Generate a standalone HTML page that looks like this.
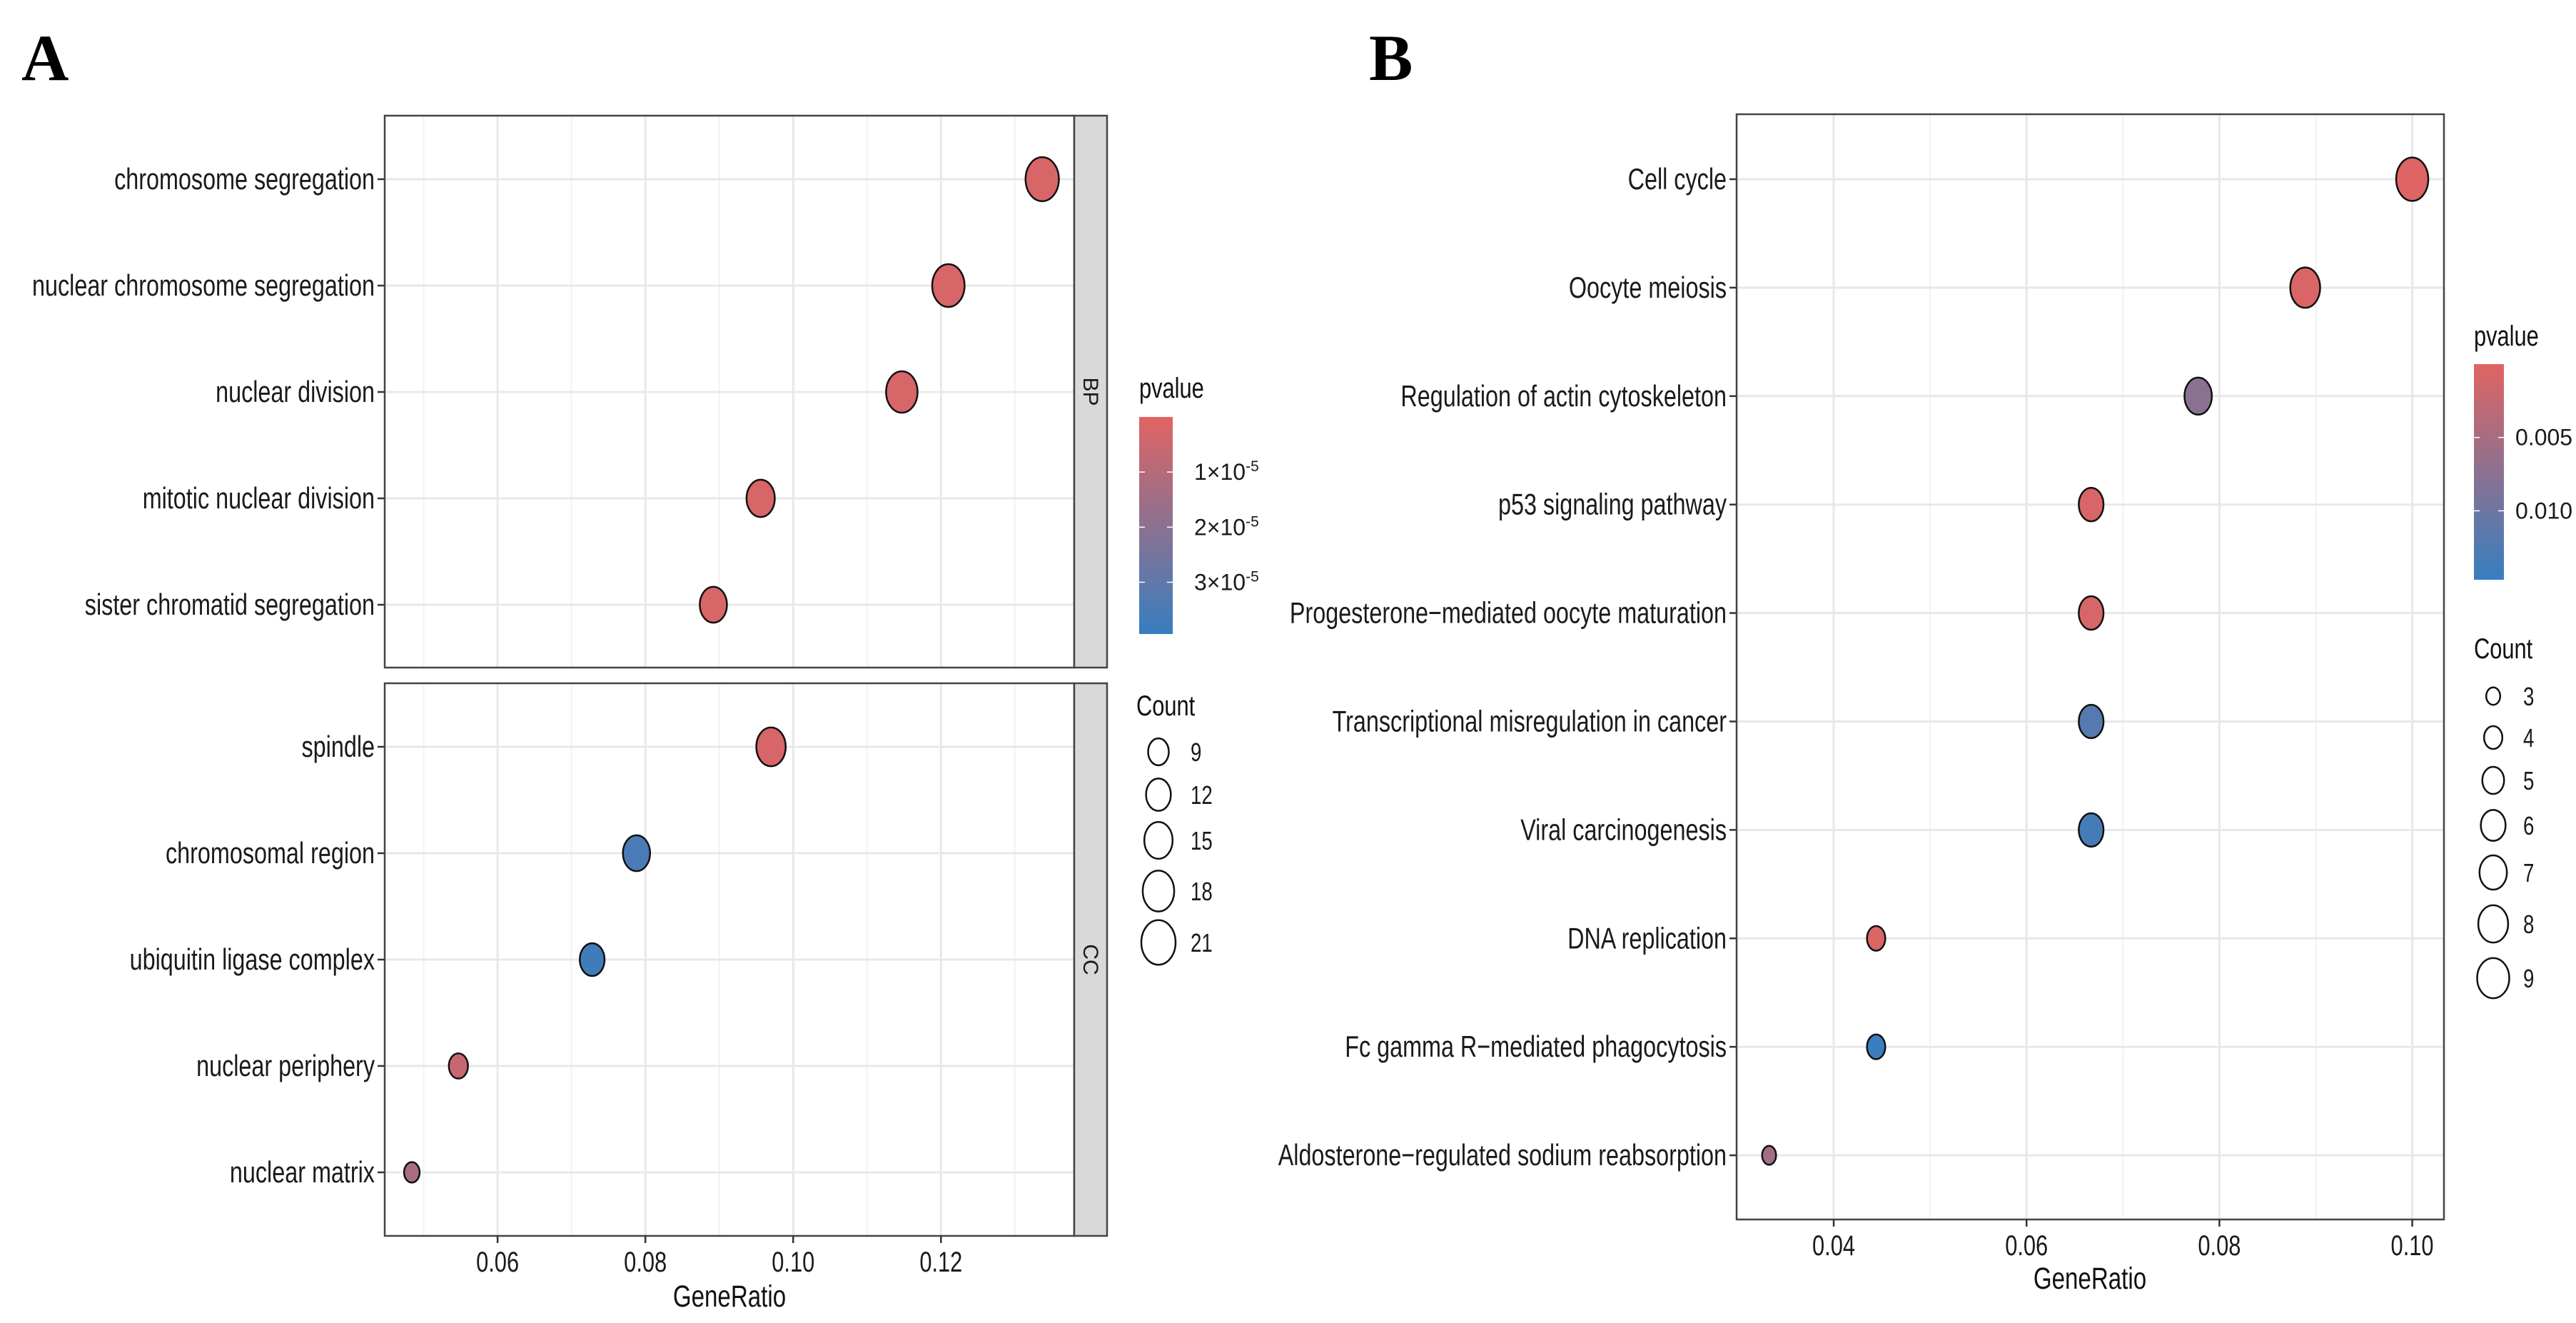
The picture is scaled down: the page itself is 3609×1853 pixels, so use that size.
<!DOCTYPE html>
<html><head><meta charset="utf-8"><style>
html,body{margin:0;padding:0;background:#fff;}
svg{display:block;font-family:"Liberation Sans",Arial,sans-serif;}
</style></head><body>
<svg id="fig" width="3609" height="1853" viewBox="0 0 3609 1853" xmlns="http://www.w3.org/2000/svg"></svg>
<script>
// ---- Panel A data (GO) ----
const aBPTerms = ["chromosome segregation","nuclear chromosome segregation","nuclear division","mitotic nuclear division","sister chromatid segregation"];
const aBPRatio = [0.1337,0.1210,0.1147,0.0956,0.0892];
const aBPCount = [20,19,18,15,14];
const aBPP = [0.2e-5,0.2e-5,0.2e-5,0.2e-5,0.2e-5];
const aCCTerms = ["spindle","chromosomal region","ubiquitin ligase complex","nuclear periphery","nuclear matrix"];
const aCCRatio = [0.0970,0.0788,0.0728,0.0547,0.0484];
const aCCCount = [16,14,12,8,6];
const aCCP = [0.2e-5,3.5e-5,3.7e-5,0.6e-5,1.3e-5];
const aXTicks = [0.06,0.08,0.10,0.12];
const aXTickLabels = ["0.06","0.08","0.10","0.12"];
const aPTicks = [1e-5,2e-5,3e-5];
const aCountLegend = [9,12,15,18,21];
// ---- Panel B data (KEGG) ----
const bTerms = ["Cell cycle","Oocyte meiosis","Regulation of actin cytoskeleton","p53 signaling pathway","Progesterone\u2212mediated oocyte maturation","Transcriptional misregulation in cancer","Viral carcinogenesis","DNA replication","Fc gamma R\u2212mediated phagocytosis","Aldosterone\u2212regulated sodium reabsorption"];
const bRatio = [0.1000,0.0889,0.0778,0.0667,0.0667,0.0667,0.0667,0.0444,0.0444,0.0333];
const bCount = [9,8,7,6,6,6,6,4,4,3];
const bP = [0.0003,0.0006,0.0075,0.0008,0.0009,0.0120,0.0135,0.0005,0.0145,0.0055];
const bXTicks = [0.04,0.06,0.08,0.10];
const bXTickLabels = ["0.04","0.06","0.08","0.10"];
const bPTicks = [0.005,0.010];
const bPTickLabels = ["0.005","0.010"];
const bCountLegend = [3,4,5,6,7,8,9];

const NS="http://www.w3.org/2000/svg";
const svg=document.getElementById('fig');
function mk(tag,attrs,parent){const e=document.createElementNS(NS,tag);for(const k in attrs)e.setAttribute(k,attrs[k]);(parent||svg).appendChild(e);return e;}
function txt(s,attrs,parent,squeeze){const t=mk('text',attrs,parent);t.textContent=s;if(squeeze){const w=t.getComputedTextLength();t.setAttribute('textLength',(w*squeeze).toFixed(1));t.setAttribute('lengthAdjust','spacingAndGlyphs');}return t;}
const RED=[225,100,98],BLUE=[55,126,192];
function colAt(f){f=Math.max(0,Math.min(1,f));const c=RED.map((r,i)=>Math.round(r+(BLUE[i]-r)*f));return `rgb(${c[0]},${c[1]},${c[2]})`;}
const SQ=0.77;

function panel(o){
  const g=mk('g',{});
  
  
  const xs=v=>o.x0+(v-o.xmin)/(o.xmax-o.xmin)*(o.x1-o.x0);
  mk('rect',{x:o.x0,y:o.y0,width:o.x1-o.x0,height:o.y1-o.y0,fill:'#fff'},g);
  for(let i=0;i<o.ticks.length+1;i++){const v=o.ticks[0]-0.01+0.02*i;const x=xs(v);if(x>o.x0&&x<o.x1)mk('line',{x1:x,x2:x,y1:o.y0,y2:o.y1,stroke:'#f2f2f2','stroke-width':2},g);}
  o.ticks.forEach(v=>{const x=xs(v);mk('line',{x1:x,x2:x,y1:o.y0,y2:o.y1,stroke:'#e8e8e8','stroke-width':3},g);});
  const ys=i=>o.ry0+i*o.rstep;
  o.terms.forEach((t,i)=>{
    const y=ys(i);
    mk('line',{x1:o.x0,x2:o.x1,y1:y,y2:y,stroke:'#e8e8e8','stroke-width':3},g);
    const lab=txt(t,{x:o.x0-14,y:y+14,'text-anchor':'end','font-size':42,fill:'#1a1a1a'},g,SQ);
    
    
    mk('line',{x1:o.x0-10,x2:o.x0,y1:y,y2:y,stroke:'#333','stroke-width':2.5},g);
  });
  o.terms.forEach((t,i)=>{
    const rx=o.rad(o.count[i]);
    const e=mk('ellipse',{cx:xs(o.ratio[i]),cy:ys(i),rx:rx,ry:rx*o.ryf,fill:colAt(o.p[i]/o.pmax),stroke:'#111','stroke-width':2.5},g);
    
    
  });
  mk('rect',{x:o.x0,y:o.y0,width:o.x1-o.x0,height:o.y1-o.y0,fill:'none',stroke:'#444','stroke-width':2.5},g);
  if(o.showX){
    o.ticks.forEach((v,i)=>{const x=xs(v);mk('line',{x1:x,x2:x,y1:o.y1,y2:o.y1+10,stroke:'#333','stroke-width':2.5},g);
      const tl=txt(o.tickLabels[i],{x:x,y:o.y1+50,'text-anchor':'middle','font-size':40,fill:'#1a1a1a'},g,SQ);
      
      });
  }
  return g;
}
const radA=c=>Math.sqrt(Math.max(20,-64.5+30.5*c));
const radB=c=>Math.sqrt(Math.max(20,-109+68.3*c));
const aCommon={x0:539,x1:1505,xmin:0.04473,xmax:0.13803,ticks:aXTicks,tickLabels:aXTickLabels,pmax:3.94e-5,rad:radA,ryf:1.32,rstep:149};
panel(Object.assign({},aCommon,{name:'panel-a-bp',y0:162,y1:935,ry0:251,terms:aBPTerms,ratio:aBPRatio,count:aBPCount,p:aBPP,showX:false}));
panel(Object.assign({},aCommon,{name:'panel-a-cc',y0:957,y1:1731,ry0:1046,terms:aCCTerms,ratio:aCCRatio,count:aCCCount,p:aCCP,showX:true}));
[[162,935,'BP','strip-bp'],[957,1731,'CC','strip-cc']].forEach(s=>{
  const r=mk('rect',{x:1505,y:s[0],width:46,height:s[1]-s[0],fill:'#d9d9d9',stroke:'#444','stroke-width':2.5});
  
  
  const cy=(s[0]+s[1])/2;
  txt(s[2],{x:0,y:0,'font-size':30,fill:'#1a1a1a','text-anchor':'middle',transform:`translate(1518,${cy}) rotate(90)`});
});
let t=txt('GeneRatio',{x:1022,y:1830,'text-anchor':'middle','font-size':43,fill:'#111'},null,SQ);


t=txt('A',{x:30,y:112,'font-size':92,'font-weight':'bold','font-family':'Liberation Serif, serif',fill:'#000'});



panel({name:'panel-b',x0:2433,x1:3424,y0:160,y1:1708,xmin:0.02993,xmax:0.10329,ticks:bXTicks,tickLabels:bXTickLabels,pmax:0.0147,rad:radB,ryf:1.35,ry0:251,rstep:151.9,terms:bTerms,ratio:bRatio,count:bCount,p:bP,showX:true});
t=txt('GeneRatio',{x:2928,y:1805,'text-anchor':'middle','font-size':43,fill:'#111'},null,SQ);


t=txt('B',{x:1918,y:112,'font-size':92,'font-weight':'bold','font-family':'Liberation Serif, serif',fill:'#000'});



const defs=mk('defs',{});
const lg=mk('linearGradient',{id:'pgrad',x1:0,y1:0,x2:0,y2:1},defs);
mk('stop',{offset:'0',"stop-color":colAt(0)},lg);
mk('stop',{offset:'0.5',"stop-color":colAt(0.5)},lg);
mk('stop',{offset:'1',"stop-color":colAt(1)},lg);

function colorbar(o){
  const tt=txt('pvalue',{x:o.x,y:o.ty,'font-size':40,fill:'#111'},null,SQ);
  
  
  const r=mk('rect',{x:o.x,y:o.y0,width:o.w,height:o.y1-o.y0,fill:'url(#pgrad)'});
  
  
  o.ticks.forEach((v,i)=>{
    const y=o.y0+v/o.pmax*(o.y1-o.y0);
    mk('line',{x1:o.x,x2:o.x+8,y1:y,y2:y,stroke:'#fff','stroke-width':1.5});
    mk('line',{x1:o.x+o.w-8,x2:o.x+o.w,y1:y,y2:y,stroke:'#fff','stroke-width':1.5});
    const l=mk('text',{x:o.lx,y:y+11,'font-size':32,fill:'#1a1a1a'});
    if(o.sci){const m=Math.round(v/1e-5);l.textContent=m+'\u00d710';const s=mk('tspan',{dy:-12,'font-size':21},l);s.textContent='-5';}
    else l.textContent=o.labels[i];
    
    
  });
}
colorbar({name:'legend-a-pvalue',x:1596,w:47,ty:557,y0:584,y1:888,pmax:3.94e-5,ticks:aPTicks,lx:1673,sci:true});
colorbar({name:'legend-b-pvalue',x:3466,w:42,ty:484,y0:510,y1:812,pmax:0.0147,ticks:bPTicks,labels:bPTickLabels,lx:3524,sci:false});

function countLegend(o){
  const tt=txt('Count',{x:o.x,y:o.ty,'font-size':40,fill:'#111'},null,SQ);
  
  
  o.vals.forEach((v,i)=>{
    const rx=o.rad(v);const y=o.ys[i];
    const e=mk('ellipse',{cx:o.cx,cy:y,rx:rx,ry:rx*o.ryf,fill:'none',stroke:'#111','stroke-width':2.5});
    
    
    txt(String(v),{x:o.lx,y:y+13,'font-size':36,fill:'#1a1a1a'},null,SQ);
  });
}
countLegend({name:'legend-a-count',x:1592,ty:1002,cx:1623,lx:1668,vals:aCountLegend,rad:radA,ryf:1.3,ys:[1053,1113,1177,1248,1320]});
countLegend({name:'legend-b-count',x:3466,ty:922,cx:3493,lx:3535,vals:bCountLegend,rad:radB,ryf:1.25,ys:[975,1033,1093,1156,1222,1294,1370]});
</script>
</body></html>
